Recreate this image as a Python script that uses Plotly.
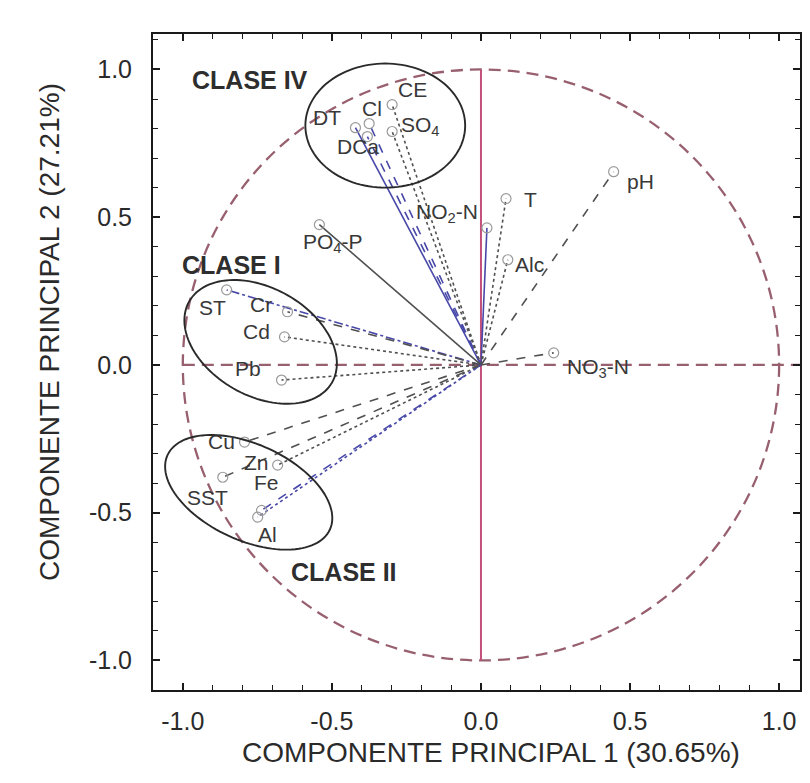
import numpy as np
import plotly.graph_objects as go

# ---- data (loadings) ----
variables = ["CE", "Cl", "DT", "DCa", "SO4", "NO2-N", "T", "Alc", "pH", "NO3-N",
             "PO4-P", "ST", "Cr", "Cd", "Pb", "Cu", "Zn", "Fe", "SST", "Al"]
labels = ["CE", "Cl", "DT", "DCa", "SO<sub>4</sub>", "NO<sub>2</sub>-N", "T", "Alc", "pH",
          "NO<sub>3</sub>-N", "PO<sub>4</sub>-P", "ST", "Cr", "Cd", "Pb", "Cu", "Zn", "Fe", "SST", "Al"]
pc1 = [-0.298, -0.375, -0.421, -0.381, -0.298, 0.020, 0.084, 0.090, 0.445, 0.244,
       -0.542, -0.853, -0.649, -0.659, -0.669, -0.793, -0.682, -0.736, -0.866, -0.749]
pc2 = [0.881, 0.817, 0.803, 0.773, 0.790, 0.464, 0.563, 0.356, 0.654, 0.041,
       0.475, 0.254, 0.180, 0.095, -0.051, -0.261, -0.339, -0.492, -0.380, -0.515]

groups = ["CLASE IV", "CLASE I", "CLASE II"]
tick_vals = [-1.0, -0.5, 0.0, 0.5, 1.0]
tick_text = ["-1.0", "-0.5", "0.0", "0.5", "1.0"]
x_title = "COMPONENTE PRINCIPAL 1 (30.65%)"
y_title = "COMPONENTE PRINCIPAL 2 (27.21%)"

# ---- styles (separate from data) ----
BLUE = "#4848a8"
GRAY = "#505050"
line_style = {
    "CE": (GRAY, "dot"), "Cl": (BLUE, "dash"), "DT": (BLUE, "solid"), "DCa": (BLUE, "dash"),
    "SO4": (GRAY, "dot"), "NO2-N": (BLUE, "solid"), "T": (GRAY, "dot"), "Alc": (GRAY, "dot"),
    "pH": (GRAY, "dash"), "NO3-N": (GRAY, "dash"), "PO4-P": (GRAY, "solid"),
    "ST": (BLUE, "dashdot"), "Cr": (GRAY, "dash"), "Cd": (GRAY, "dot"), "Pb": (GRAY, "dot"),
    "Cu": (GRAY, "dash"), "Zn": (GRAY, "dot"), "Fe": (BLUE, "dash"), "SST": (GRAY, "dash"),
    "Al": (BLUE, "dot"),
}
label_shift = {  # (xshift, yshift) in px
    "CE": (20, 15), "Cl": (3, 15), "DT": (-28, 10), "DCa": (-9, -10), "SO4": (28, 6),
    "NO2-N": (-40, 15), "T": (24, -1), "Alc": (22, -5), "pH": (27, -10), "NO3-N": (44, -15),
    "PO4-P": (14, -18), "ST": (-14, -18), "Cr": (-26, 7), "Cd": (-28, 5), "Pb": (-34, 12),
    "Cu": (-23, 1), "Zn": (-21, 3), "Fe": (5, 28), "SST": (-15, -20), "Al": (10, -17),
}
ellipses = {  # center x, center y, a, b, angle(deg)
    "CLASE IV": (-0.321, 0.810, 0.268, 0.210, 0),
    "CLASE I": (-0.739, 0.078, 0.276, 0.182, -30),
    "CLASE II": (-0.779, -0.431, 0.300, 0.162, -25),
}
group_label_pos = {"CLASE IV": (-0.776, 0.966), "CLASE I": (-0.836, 0.339), "CLASE II": (-0.458, -0.702)}

FONT = "Liberation Sans, Arial"

fig = go.Figure()

# loading vectors
for v, x, y in zip(variables, pc1, pc2):
    col, dash = line_style[v]
    fig.add_trace(go.Scatter(x=[0, x], y=[0, y], mode="lines",
                             line=dict(color=col, width=1.6, dash=dash),
                             hoverinfo="skip", showlegend=False))
fig.add_trace(go.Scatter(x=pc1, y=pc2, mode="markers", text=variables,
                         marker=dict(symbol="circle-open", size=10, color="#9a9a9a",
                                     line=dict(width=1.2, color="#9a9a9a")),
                         showlegend=False))

shapes = []
# unit circle
shapes.append(dict(type="circle", xref="x", yref="y", x0=-1, x1=1, y0=-1, y1=1,
                   line=dict(color="#98606e", width=2.3, dash="12px,7px"), layer="below"))
# horizontal dashed axis
shapes.append(dict(type="line", xref="x", yref="y", x0=-1.0, x1=1.07, y0=0, y1=0,
                   line=dict(color="#98606e", width=2.3, dash="12px,7px"), layer="below"))
# vertical solid axis
shapes.append(dict(type="line", xref="x", yref="y", x0=0, x1=0, y0=-1.0, y1=1.0,
                   line=dict(color="#c2507a", width=2), layer="below"))

# group ellipses
t = np.linspace(0, 2 * np.pi, 121)
for g in groups:
    cx, cy, a, b, ang = ellipses[g]
    th = np.deg2rad(ang)
    ex = cx + a * np.cos(t) * np.cos(th) - b * np.sin(t) * np.sin(th)
    ey = cy + a * np.cos(t) * np.sin(th) + b * np.sin(t) * np.cos(th)
    path = "M " + " L ".join(f"{px:.4f},{py:.4f}" for px, py in zip(ex, ey)) + " Z"
    shapes.append(dict(type="path", xref="x", yref="y", path=path,
                       line=dict(color="#2a2a2a", width=1.9)))

annotations = []
for v, lab, x, y in zip(variables, labels, pc1, pc2):
    dx, dy = label_shift[v]
    annotations.append(dict(x=x, y=y, xref="x", yref="y", text=lab, showarrow=False,
                            xshift=dx, yshift=dy,
                            font=dict(family=FONT, size=21, color="#383838")))
for g in groups:
    gx, gy = group_label_pos[g]
    annotations.append(dict(x=gx, y=gy, xref="x", yref="y", text=f"<b>{g}</b>", showarrow=False,
                            font=dict(family=FONT, size=25, color="#2e2e2e")))
annotations.append(dict(x=0.522, y=-0.095, xref="paper", yref="paper", text=x_title, showarrow=False,
                        xanchor="center", yanchor="middle",
                        font=dict(family=FONT, size=28, color="#2a2a2a")))
annotations.append(dict(x=-0.159, y=0.546, xref="paper", yref="paper", text=y_title, showarrow=False,
                        textangle=-90, xanchor="center", yanchor="middle",
                        font=dict(family=FONT, size=28, color="#2a2a2a")))

axis_common = dict(showgrid=False, zeroline=False, showline=True, linecolor="#1a1a1a",
                   linewidth=2, mirror="ticks", ticks="inside", ticklen=7, tickwidth=1.5,
                   tickcolor="#1a1a1a", tickvals=tick_vals, ticktext=tick_text,
                   tickfont=dict(family=FONT, size=25, color="#2a2a2a"),
                   minor=dict(dtick=0.1, ticks="inside", ticklen=5, tickwidth=1.2,
                              tickcolor="#1a1a1a"))

fig.update_layout(
    width=810, height=783,
    margin=dict(l=153, r=8, t=34, b=93),
    paper_bgcolor="white", plot_bgcolor="white",
    xaxis=dict(range=[-1.10, 1.07], **axis_common),
    yaxis=dict(range=[-1.10, 1.12], **axis_common),
    shapes=shapes, annotations=annotations,
    showlegend=False,
)
fig.update_xaxes(ticklabelstandoff=8)
fig.update_yaxes(ticklabelstandoff=14)

fig.write_html("out.html")
